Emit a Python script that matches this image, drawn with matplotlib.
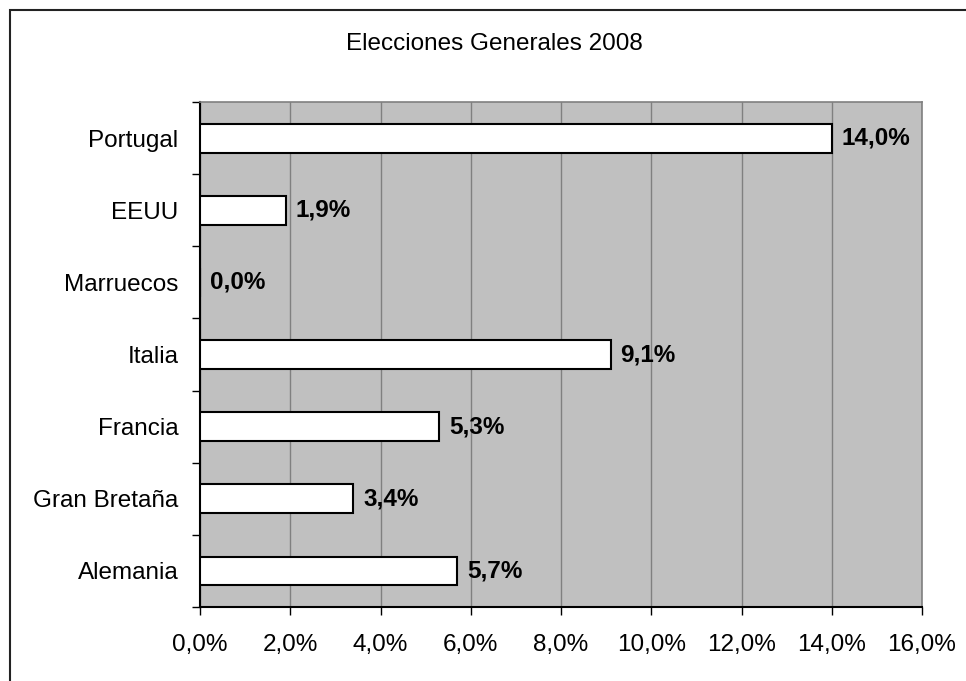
import matplotlib
matplotlib.use("Agg")
import matplotlib.pyplot as plt
from matplotlib.ticker import FixedLocator, FuncFormatter
from matplotlib.patches import Rectangle

plt.rcParams['font.family'] = ['Liberation Sans', 'DejaVu Sans']

categories = ["Alemania", "Gran Bretaña", "Francia", "Italia", "Marruecos", "EEUU", "Portugal"]
values = [5.7, 3.4, 5.3, 9.1, 0.0, 1.9, 14.0]
xticks = [0, 2, 4, 6, 8, 10, 12, 14, 16]
title = "Elecciones Generales 2008"

W, H = 966, 681
fig = plt.figure(figsize=(W / 100, H / 100), dpi=100)
# outer chart border (only top and left edges visible in the image)
fig.patches.append(Rectangle((9.5 / W, -0.1), 1.2, 1 - 9.5 / H + 0.1, transform=fig.transFigure,
                             fill=False, edgecolor='#222222', linewidth=1.5))
ax = fig.add_axes([200 / W, 1 - 607 / H, 722 / W, 505 / H])
ax.set_facecolor('#C0C0C0')

y = list(range(len(categories)))
ax.barh(y, values, height=0.4, color='white', edgecolor='black', linewidth=1.5, zorder=3)
for yi, v in zip(y, values):
    ax.text(v + 0.22, yi, f"{v:.1f}%".replace('.', ','), va='center', ha='left',
            fontsize=17.5, fontweight='bold', zorder=4)

ax.set_xlim(0, 16)
ax.set_ylim(-0.5, len(categories) - 0.5)
ax.set_xticks(xticks)
ax.xaxis.set_major_formatter(FuncFormatter(lambda v, p: f"{v:.1f}%".replace('.', ',')))
ax.grid(axis='x', color='#808080', linewidth=1, zorder=1)
ax.set_axisbelow(True)

ax.set_yticks(y)
ax.set_yticklabels(categories)
ax.yaxis.set_minor_locator(FixedLocator([i - 0.5 for i in range(len(categories) + 1)]))
ax.tick_params(axis='y', which='major', length=0, pad=15.5, labelsize=17.5)
ax.tick_params(axis='y', which='minor', length=5.8, width=1, direction='out')
ax.tick_params(axis='x', which='major', length=5.8, width=1, direction='out', pad=14, labelsize=17.5)

for s in ['top', 'right']:
    ax.spines[s].set_color('#808080')
    ax.spines[s].set_linewidth(1.2)
for s in ['left', 'bottom']:
    ax.spines[s].set_color('black')
    ax.spines[s].set_linewidth(1.5)

fig.text(494 / W, 1 - 44 / H, title, ha='center', va='center', fontsize=17.5)

fig.savefig("out.png", dpi=100)
